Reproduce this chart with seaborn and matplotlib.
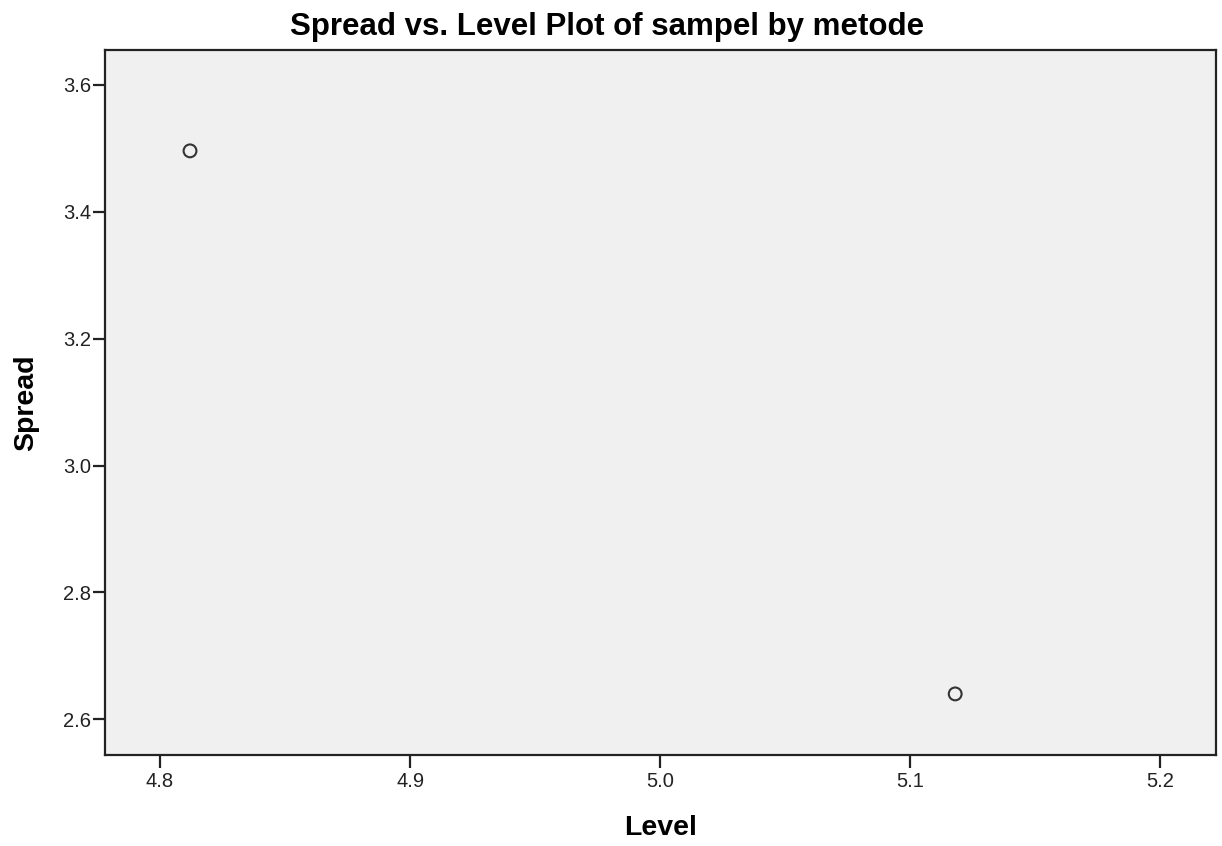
import matplotlib
matplotlib.use("Agg")
import matplotlib.pyplot as plt
import seaborn as sns
import pandas as pd

level = [4.812, 5.118]
spread = [3.496, 2.640]
x_ticks = [4.8, 4.9, 5.0, 5.1, 5.2]
y_ticks = [2.6, 2.8, 3.0, 3.2, 3.4, 3.6]

df = pd.DataFrame({"Level": level, "Spread": spread})

sns.set_theme(style="white")
plt.rcParams['font.family'] = ['Liberation Sans', 'DejaVu Sans']

fig = plt.figure(figsize=(12.22, 8.46), dpi=100)
ax = fig.add_axes([105/1222, 91/846, 1111/1222, 705/846])
ax.set_facecolor("#f0f0f0")

sns.scatterplot(data=df, x="Level", y="Spread", ax=ax, marker="o", s=85,
                facecolor="none", edgecolor="#333333", linewidth=1.5)

ax.set_xlim(4.778, 5.2223)
ax.set_ylim(2.5437, 3.655)
ax.set_xticks(x_ticks)
ax.set_xticklabels([f"{v:.1f}" for v in x_ticks])
ax.set_yticks(y_ticks)
ax.set_yticklabels([f"{v:.1f}" for v in y_ticks])

for s in ax.spines.values():
    s.set_visible(True)
    s.set_color("#222222")
    s.set_linewidth(1.6)

ax.tick_params(axis="x", direction="out", length=9.5, width=1.6, color="#222222",
               labelsize=14.5, labelcolor="#222222", bottom=True, pad=3)
ax.tick_params(axis="y", direction="out", length=9, width=1.6, color="#222222",
               labelsize=14.5, labelcolor="#222222", left=True, pad=1)

ax.set_xlabel("Level", fontsize=20.5, fontweight="bold", labelpad=17, color="black")
ax.set_ylabel("Spread", fontsize=20.5, fontweight="bold", labelpad=17, color="black")

fig.text(607/1222, 1 - 27.5/846, "Spread vs. Level Plot of sampel by metode",
         ha="center", va="center", fontsize=22.5, fontweight="bold", color="black")

fig.savefig("out.png", dpi=100, facecolor="white")
